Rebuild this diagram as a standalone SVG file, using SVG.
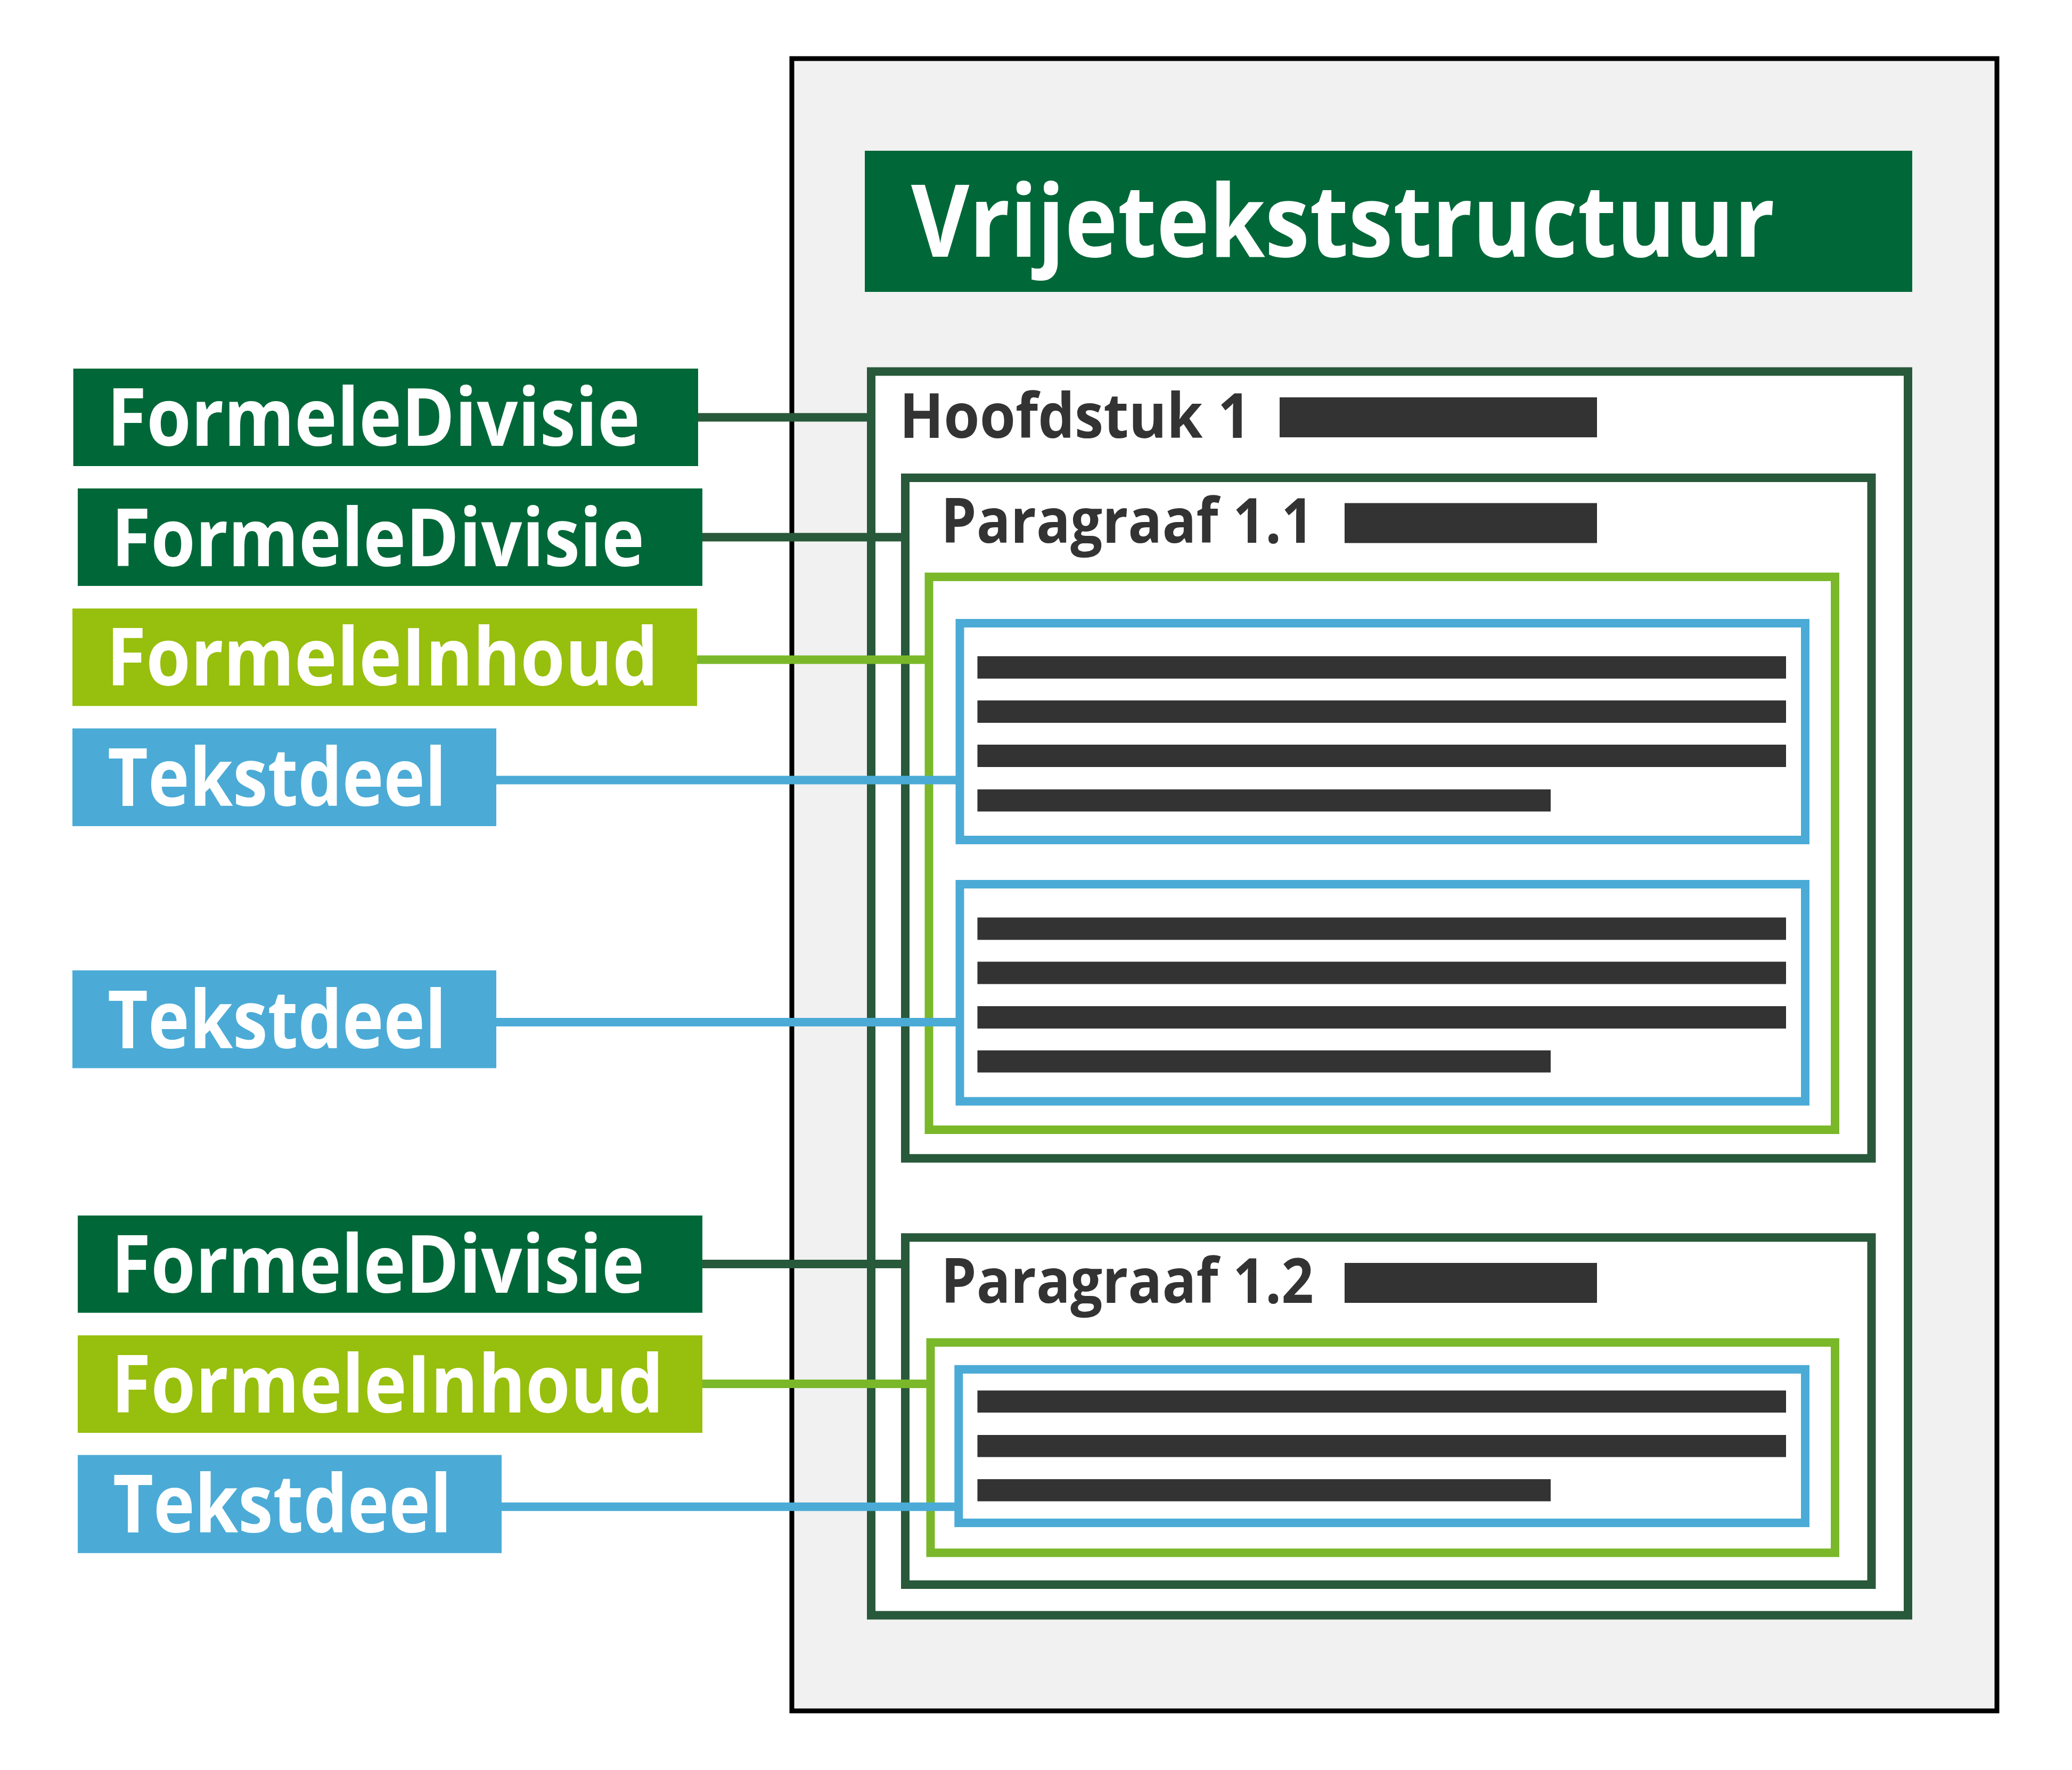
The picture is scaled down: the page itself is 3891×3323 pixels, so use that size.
<svg xmlns="http://www.w3.org/2000/svg" width="3891" height="3323" viewBox="0 0 3891 3323">
<style>
.bg{fill:#ffffff}
.outer{fill:#f1f1f1;stroke:#000000;stroke-width:9}
.div{fill:#ffffff;stroke:#28593a;stroke-width:16}
.inh{fill:#ffffff;stroke:#7ab82a;stroke-width:16}
.tek{fill:#ffffff;stroke:#4babd6;stroke-width:16}
.bar{fill:#333333}
.lbl{font-family:"Open Sans","Noto Sans","Liberation Sans",sans-serif;font-weight:700;font-size:150px;fill:#ffffff}
.head{font-family:"Open Sans","Noto Sans","Liberation Sans",sans-serif;font-weight:700;font-size:116px;fill:#333333}
.title{font-family:"Open Sans","Noto Sans","Liberation Sans",sans-serif;font-weight:700;font-size:188px;fill:#ffffff}
.fdfill{fill:#006838}
.fifill{fill:#97bf0d}
.tdfill{fill:#4babd6}
.cdiv{stroke:#28593a;stroke-width:16;fill:none}
.cinh{stroke:#7ab82a;stroke-width:16;fill:none}
.ctek{stroke:#4babd6;stroke-width:16;fill:none}
</style>
<rect class="bg" x="0" y="0" width="3891" height="3323"/>

<g id="document">
  <rect class="outer" x="1487" y="110" width="2263" height="3102"/>
</g>

<g id="title">
  <rect class="fdfill" x="1624" y="283" width="1967" height="265"/>
  <text class="title" x="1711" y="482" textLength="1622" lengthAdjust="spacingAndGlyphs">Vrijetekststructuur</text>
</g>

<g id="hoofdstuk1">
  <rect class="div" x="1636" y="697.5" width="1947" height="2335"/>
  <text class="head" x="1689" y="822" textLength="660" lengthAdjust="spacingAndGlyphs">Hoofdstuk 1</text>
  <rect class="bar" x="2403" y="746" width="596" height="75"/>
</g>

<g id="paragraaf11">
  <rect class="div" x="1700" y="897" width="1814.5" height="1277.7"/>
  <text class="head" x="1767" y="1018.6" textLength="700" lengthAdjust="spacingAndGlyphs">Paragraaf 1.1</text>
  <rect class="bar" x="2525" y="944.5" width="474" height="75"/>
</g>

<g id="inhoud1">
  <rect class="inh" x="1744.5" y="1083" width="1701.5" height="1038"/>
</g>

<g id="tekstdeel1">
  <rect class="tek" x="1802.5" y="1170" width="1587.5" height="407"/>
  <rect class="bar" x="1835.5" y="1232" width="1518.5" height="42"/>
  <rect class="bar" x="1835.5" y="1315" width="1518.5" height="42"/>
  <rect class="bar" x="1835.5" y="1398" width="1518.5" height="42"/>
  <rect class="bar" x="1835.5" y="1482" width="1076.5" height="41.5"/>
</g>

<g id="tekstdeel2">
  <rect class="tek" x="1802.5" y="1660" width="1587.5" height="407.6"/>
  <rect class="bar" x="1835.5" y="1722.5" width="1518.5" height="42"/>
  <rect class="bar" x="1835.5" y="1805.5" width="1518.5" height="42"/>
  <rect class="bar" x="1835.5" y="1889" width="1518.5" height="42"/>
  <rect class="bar" x="1835.5" y="1972" width="1076.5" height="41.5"/>
</g>

<g id="paragraaf12">
  <rect class="div" x="1700" y="2323.3" width="1814.5" height="651.7"/>
  <text class="head" x="1767" y="2446" textLength="700" lengthAdjust="spacingAndGlyphs">Paragraaf 1.2</text>
  <rect class="bar" x="2525" y="2371" width="474" height="75"/>
</g>

<g id="inhoud2">
  <rect class="inh" x="1747.5" y="2520.4" width="1698.5" height="394.8"/>
</g>

<g id="tekstdeel3">
  <rect class="tek" x="1800.3" y="2570.8" width="1589.7" height="288.2"/>
  <rect class="bar" x="1835.5" y="2610.5" width="1518.5" height="41.5"/>
  <rect class="bar" x="1835.5" y="2694" width="1518.5" height="41.5"/>
  <rect class="bar" x="1835.5" y="2777" width="1076.5" height="41.5"/>
</g>

<g id="connectors">
  <line class="cdiv" x1="1311" y1="783.6" x2="1628" y2="783.6"/>
  <line class="cdiv" x1="1319" y1="1008.5" x2="1692" y2="1008.5"/>
  <line class="cinh" x1="1309" y1="1238.5" x2="1737" y2="1238.5"/>
  <line class="ctek" x1="932" y1="1464.5" x2="1795" y2="1464.5"/>
  <line class="ctek" x1="932" y1="1919" x2="1795" y2="1919"/>
  <line class="cdiv" x1="1319" y1="2373" x2="1692" y2="2373"/>
  <line class="cinh" x1="1319" y1="2598" x2="1740" y2="2598"/>
  <line class="ctek" x1="942" y1="2828.7" x2="1793" y2="2828.7"/>
</g>

<g id="label-formeledivisie-1">
  <rect class="fdfill" x="137.6" y="692" width="1173.4" height="183"/>
  <text class="lbl" x="201" y="837" textLength="1001" lengthAdjust="spacingAndGlyphs">FormeleDivisie</text>
</g>
<g id="label-formeledivisie-2">
  <rect class="fdfill" x="146" y="917" width="1173" height="183"/>
  <text class="lbl" x="209" y="1063" textLength="1001" lengthAdjust="spacingAndGlyphs">FormeleDivisie</text>
</g>
<g id="label-formeleinhoud-1">
  <rect class="fifill" x="136" y="1142.4" width="1173" height="183"/>
  <text class="lbl" x="200" y="1287" textLength="1036" lengthAdjust="spacingAndGlyphs">FormeleInhoud</text>
</g>
<g id="label-tekstdeel-1">
  <rect class="tdfill" x="136" y="1367.5" width="796" height="183.5"/>
  <text class="lbl" x="202" y="1513" textLength="636" lengthAdjust="spacingAndGlyphs">Tekstdeel</text>
</g>
<g id="label-tekstdeel-2">
  <rect class="tdfill" x="136" y="1821.7" width="796" height="183.7"/>
  <text class="lbl" x="202" y="1968" textLength="636" lengthAdjust="spacingAndGlyphs">Tekstdeel</text>
</g>
<g id="label-formeledivisie-3">
  <rect class="fdfill" x="146" y="2282" width="1173" height="182.6"/>
  <text class="lbl" x="209" y="2427" textLength="1001" lengthAdjust="spacingAndGlyphs">FormeleDivisie</text>
</g>
<g id="label-formeleinhoud-2">
  <rect class="fifill" x="146" y="2507" width="1173" height="183"/>
  <text class="lbl" x="209" y="2651.5" textLength="1037" lengthAdjust="spacingAndGlyphs">FormeleInhoud</text>
</g>
<g id="label-tekstdeel-3">
  <rect class="tdfill" x="146" y="2731.6" width="796" height="184.2"/>
  <text class="lbl" x="212" y="2877" textLength="636" lengthAdjust="spacingAndGlyphs">Tekstdeel</text>
</g>
</svg>
